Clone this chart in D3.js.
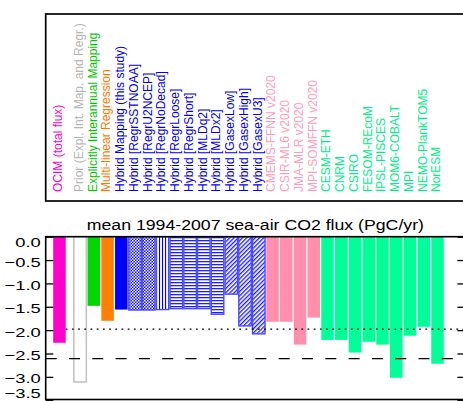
<!DOCTYPE html>
<html>
<head>
  <meta charset="UTF-8">
  <style>
    body { margin: 0; background: white; }
    svg { display: block; font-family: "Liberation Sans", Arial, sans-serif; }
  </style>
</head>
<body>
<svg></svg>
<script src="https://d3js.org/d3.v7.min.js"></script>
<script>
let width = 463, height = 401;

// products, in plot order
const names = [
  "OCIM (total flux)", "Prior (Expl. Int. Map. and Regr.)", "Explicitly Interannual Mapping",
  "Multi-linear Regression", "Hybrid Mapping (this study)", "Hybrid [RegrSSTNOAA]",
  "Hybrid [RegrU2NCEP]", "Hybrid [RegrNoDecad]", "Hybrid [RegrLoose]", "Hybrid [RegrShort]",
  "Hybrid [MLDq2]", "Hybrid [MLDx2]", "Hybrid [GasexLow]", "Hybrid [GasexHigh]", "Hybrid [GasexU3]",
  "CMEMS-FFNN v2020", "CSIR-ML6 v2020", "JMA-MLR v2020", "MPI-SOMFFN v2020",
  "CESM-ETH", "CNRM", "CSIRO", "FESOM-REcoM", "IPSL-PISCES", "MOM6-COBALT", "MPI",
  "NEMO-PlankTOM5", "NorESM"
];
// mean 1994-2007 flux (PgC/yr)
const fluxes = [
  -2.27, -3.11, -1.48, -1.80, -1.56, -1.57, -1.57, -1.56, -1.54, -1.54, -1.54, -1.66,
  -1.23, -1.91, -2.08,
  -1.82, -1.82, -2.31, -1.73,
  -2.21, -2.21, -2.48, -2.25, -2.31, -3.02, -2.12, -1.93, -2.72
];
// product kind and group (groups are separated by a small gap)
const kinds = [
  "ocim", "prior", "explicit", "mlr", "hybrid", "sstnoaa", "u2ncep", "nodecad",
  "regr", "regr", "mld", "mld", "gasex", "gasex", "gasex",
  "pco2", "pco2", "pco2", "pco2",
  "gobm", "gobm", "gobm", "gobm", "gobm", "gobm", "gobm", "gobm", "gobm"
];
const groups = [0, 1, 1, 1, 1, 1, 1, 1, 1, 1, 1, 1, 1, 1, 1, 2, 2, 2, 2, 3, 3, 3, 3, 3, 3, 3, 3, 3];
// reference lines
const refValues = [-1.98, -2.61];
const yTicks = [0, -0.5, -1, -1.5, -2, -2.5, -3, -3.5];

const style = {
  ocim:     { fill: "#ff00cc", text: "#ff00cc" },
  prior:    { fill: "white", stroke: "#c4c4c4", text: "#b4b4b4" },
  explicit: { fill: "#00d800", text: "#00c800" },
  mlr:      { fill: "#ff8000", text: "#ff7800" },
  hybrid:   { fill: "#0000ff", text: "#0000ee" },
  sstnoaa:  { fill: "url(#checker)", stroke: "#4a4aff", text: "#0000ee" },
  u2ncep:   { fill: "url(#checker)", stroke: "#4a4aff", text: "#0000ee" },
  nodecad:  { fill: "url(#vert)", stroke: "#4a4aff", text: "#0000ee" },
  regr:     { fill: "url(#horiz)", stroke: "#4a4aff", text: "#0000ee" },
  mld:      { fill: "url(#horiz)", stroke: "#4a4aff", text: "#0000ee" },
  gasex:    { fill: "url(#diag)", stroke: "#4a4aff", text: "#0000ee" },
  pco2:     { fill: "#ff8fab", text: "#ff9db8" },
  gobm:     { fill: "#00ff99", text: "#00ee88" }
};

const bars = names.map((n, i) => ({
  name: n, value: fluxes[i], kind: kinds[i], pos: i + (groups[i] > 0 ? 0.5 : 0)
}));

let svg = d3.select("svg")
    .attr("width", width)
    .attr("height", height);

// hatch patterns
const defs = svg.append("defs");
let p = defs.append("pattern").attr("id", "checker").attr("patternUnits", "userSpaceOnUse")
    .attr("width", 3).attr("height", 3);
p.append("rect").attr("width", 3).attr("height", 3).attr("fill", "#1010ff");
p.append("rect").attr("width", 1.5).attr("height", 1.5).attr("fill", "white");
p.append("rect").attr("x", 1.5).attr("y", 1.5).attr("width", 1.5).attr("height", 1.5).attr("fill", "white");

p = defs.append("pattern").attr("id", "vert").attr("patternUnits", "userSpaceOnUse")
    .attr("width", 3).attr("height", 3);
p.append("rect").attr("width", 3).attr("height", 3).attr("fill", "white");
p.append("rect").attr("width", 1.1).attr("height", 3).attr("fill", "#0000ff");

p = defs.append("pattern").attr("id", "horiz").attr("patternUnits", "userSpaceOnUse")
    .attr("width", 3).attr("height", 3);
p.append("rect").attr("width", 3).attr("height", 3).attr("fill", "white");
p.append("rect").attr("width", 3).attr("height", 1.3).attr("fill", "#2020ff");

p = defs.append("pattern").attr("id", "diag").attr("patternUnits", "userSpaceOnUse")
    .attr("width", 3).attr("height", 3).attr("patternTransform", "rotate(45)");
p.append("rect").attr("width", 3).attr("height", 3).attr("fill", "white");
p.append("rect").attr("width", 1.3).attr("height", 3).attr("fill", "#1a1aff");

// scales
const plotLeft = 45.7, plotRight = 465, plotTop = 236.7, plotBottom = 400.2;
const x = d3.scaleLinear().domain([-1, 29.5]).range([plotLeft, plotRight]);
const y = d3.scaleLinear().domain([0, -3.5]).range([plotTop, plotBottom]);
const slot = x(1) - x(0);
const barW = slot * 0.91;

// legend box with rotated labels
svg.append("rect")
    .attr("x", plotLeft).attr("y", 14)
    .attr("width", 430).attr("height", 187)
    .attr("fill", "none").attr("stroke", "black").attr("stroke-width", 1.7);

svg.append("g")
    .selectAll("text")
    .data(bars)
    .join("text")
    .attr("transform", d => `translate(${x(d.pos) - 1.2},192) rotate(-90)`)
    .attr("dominant-baseline", "central")
    .style("font-size", "12px")
    .attr("fill", d => style[d.kind].text)
    .text(d => d.name);

// title
svg.append("text")
    .attr("transform", `translate(${(plotLeft + plotRight) / 2},230.3) scale(1.18,1)`)
    .attr("text-anchor", "middle")
    .style("font-size", "15px")
    .text("mean 1994-2007 sea-air CO2 flux (PgC/yr)");

// bars
svg.append("g")
    .selectAll("rect")
    .data(bars)
    .join("rect")
    .attr("x", d => x(d.pos) - barW / 2)
    .attr("y", y(0))
    .attr("width", barW)
    .attr("height", d => y(d.value) - y(0))
    .attr("fill", d => style[d.kind].fill)
    .attr("stroke", d => style[d.kind].stroke || "none")
    .attr("stroke-width", d => d.kind === "prior" ? 1.6 : 1.4);

// reference lines, drawn over the bars
svg.append("line")
    .attr("x1", x(0) + barW / 2).attr("x2", plotRight)
    .attr("y1", y(refValues[0])).attr("y2", y(refValues[0]))
    .attr("stroke", "black").attr("stroke-width", 1.3)
    .attr("stroke-dasharray", "1.8 4.4");

svg.append("line")
    .attr("x1", plotLeft).attr("x2", plotRight)
    .attr("y1", y(refValues[1])).attr("y2", y(refValues[1]))
    .attr("stroke", "black").attr("stroke-width", 1.3)
    .attr("stroke-dasharray", "11 12.3");

// axes (ticks inward)
const yAxis = svg.append("g")
    .attr("transform", `translate(${plotLeft},0)`)
    .call(d3.axisLeft(y).tickValues(yTicks).tickSize(-7.6).tickSizeOuter(0).tickPadding(5)
        .tickFormat(d3.format(".1f")));
yAxis.select(".domain").remove();
yAxis.selectAll("line").attr("stroke-width", 1.3);
yAxis.selectAll("text")
    .attr("dy", null)
    .attr("x", -5 / 1.38)
    .attr("y", d => d === 0 ? 9.4 : d === -3.5 ? -2.8 : 6)
    .attr("transform", "scale(1.38,1)")
    .attr("fill", "black")
    .style("font-size", "13.3px")
    .style("font-family", "'Liberation Sans', Arial, sans-serif");

const yAxisR = svg.append("g")
    .attr("transform", `translate(${plotRight},0)`)
    .call(d3.axisRight(y).tickValues(yTicks).tickSize(-7.6).tickSizeOuter(0).tickFormat(""));
yAxisR.select(".domain").remove();
yAxisR.selectAll("line").attr("stroke-width", 1.3);

// plot frame
svg.append("rect")
    .attr("x", plotLeft).attr("y", plotTop)
    .attr("width", plotRight - plotLeft).attr("height", plotBottom - plotTop - 0.7)
    .attr("fill", "none").attr("stroke", "black").attr("stroke-width", 1.6);
</script>
</body>
</html>
